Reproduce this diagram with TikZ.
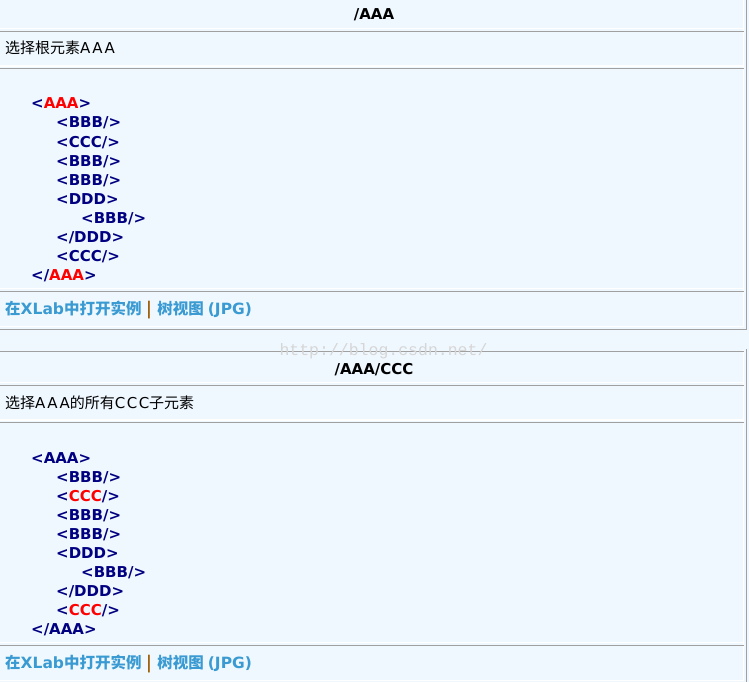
\documentclass[tikz,border=0pt]{standalone}
\usepackage{fontspec}
\setmainfont{DejaVu Sans}
\newfontfamily\zh{Noto Sans CJK SC}
\newfontfamily\spaced[LetterSpace=10]{DejaVu Sans}
\newfontfamily\markfont{Liberation Mono}
\definecolor{panelbg}{HTML}{F0F8FF}
\definecolor{rulegray}{HTML}{A0A0A0}
\definecolor{tagblue}{HTML}{000080}
\definecolor{hitred}{HTML}{FF0000}
\definecolor{linkblue}{HTML}{3A9AD2}
\definecolor{pipebrown}{HTML}{A0600A}
\definecolor{markgray}{HTML}{D6D6D6}
\newcommand{\hit}[1]{\textcolor{hitred}{#1}}
\newcommand{\footlinks}{\zh 在\rmfamily XLab\zh 中打开实例\hspace{5pt}{\color{pipebrown}|}\hspace{6pt}树视图\rmfamily\hspace{4pt}(JPG)}
\tikzset{
  heading/.style={font=\bfseries\fontsize{15}{18}\selectfont, anchor=base, inner sep=0},
  caption/.style={font=\fontsize{15}{18}\selectfont, anchor=base west, inner sep=0},
  tag/.style={font=\bfseries\fontsize{15}{18}\selectfont, text=tagblue, anchor=base west, inner sep=0},
  link/.style={font=\bfseries\fontsize{15.5}{18}\selectfont, text=linkblue, anchor=base west, inner sep=0},
  hilite/.style={white, line width=1.3pt},
  rule/.style={rulegray, line width=1.3pt}
}
\begin{document}
\begin{tikzpicture}[x=1pt, y=-1pt]
  \useasboundingbox (0,0) rectangle (749,682);
  \fill[panelbg] (0,0) rectangle (749,682);

  % frames of the two panels
  \foreach \off in {0,354} {
    \begin{scope}[shift={(0,\off)}]
      \foreach \yy in {28.8,66,288.6,326.6}
        \draw[hilite] (0,\yy) -- (743,\yy);
      \draw[hilite] (743.4,-4) -- (743.4,327);
      \foreach \yy in {-2.5,31.3,68.5,291.3}
        \draw[rule] (0,\yy) -- (744,\yy);
      \draw[rule] (746.2,-5) -- (746.2,329.9);
      \draw[rule] (0,329.2) -- (747,329.2);
    \end{scope}
  }

  % first panel: /AAA
  \node[heading] (titleA) at (374,20) {/AAA};
  \node[caption] (descA) at (5,54) {\zh 选择根元素\spaced AAA};
  \foreach \lvl/\txt [count=\i from 0] in {0/{<\hit{AAA}>}, 1/{<BBB/>}, 1/{<CCC/>}, 1/{<BBB/>},
      1/{<BBB/>}, 1/{<DDD>}, 2/{<BBB/>}, 1/{</DDD>}, 1/{<CCC/>}, 0/{</\hit{AAA}>}}
    \node[tag] (codeA-\i) at (31+25*\lvl, 109+19*\i) {\txt};
  \node[link] (linkA) at (5,314) {\footlinks};

  % second panel: /AAA/CCC
  \node[heading] (titleB) at (374,374) {/AAA/CCC};
  \node[caption] (descB) at (5,408) {\zh 选择\spaced AAA\zh 的所有\spaced CCC\zh 子元素};
  \foreach \lvl/\txt [count=\i from 0] in {0/{<AAA>}, 1/{<BBB/>}, 1/{<\hit{CCC}/>}, 1/{<BBB/>},
      1/{<BBB/>}, 1/{<DDD>}, 2/{<BBB/>}, 1/{</DDD>}, 1/{<\hit{CCC}/>}, 0/{</AAA>}}
    \node[tag] (codeB-\i) at (31+25*\lvl, 463+19*\i) {\txt};
  \node[link] (linkB) at (5,668) {\footlinks};

  % watermark
  \node[font=\markfont\fontsize{16.5}{18}\selectfont, text=markgray] (mark) at (383.5,351) {http://blog.csdn.net/};
\end{tikzpicture}
\end{document}
